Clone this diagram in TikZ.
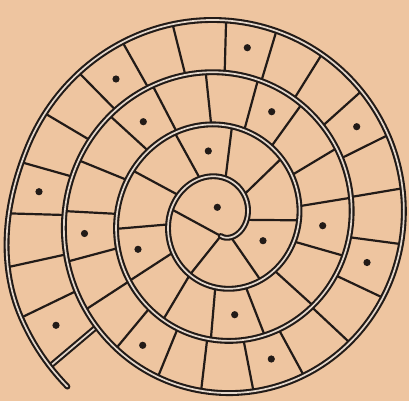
\documentclass[tikz,border=0pt]{standalone}
\usepackage{tikz}
\definecolor{paper}{RGB}{238,197,160}
\definecolor{ink}{RGB}{34,27,24}
\definecolor{gapc}{RGB}{228,216,204}
\begin{document}
\begin{tikzpicture}[x=1pt,y=-1pt,
  declare function={
    sps(\t)=min(1,max(0,(\t-1330)/45));
    spe(\t)=9*sps(\t)*sps(\t)*(3-2*sps(\t));
    spx(\t)=220.8+(12.9+0.145278*\t+spe(\t))*cos(\t+270);
    spy(\t)=219.6-(16.4+0.145278*\t+spe(\t))*sin(\t+270);
  },
  trackline/.style={draw=ink, line width=2.1pt, double=gapc, double distance=1.7pt, line cap=round, line join=round},
  divider/.style={draw=ink, line width=2.2pt},
  pip/.style={fill=ink}
]
\fill[paper] (0,0) rectangle (409,401);
\useasboundingbox (0,0) rectangle (409,401);
% chords inside the first loop
\draw[divider] ({spx(0)},{spy(0)}) -- ({spx(258.8)},{spy(258.8)});
\draw[divider] ({spx(0)},{spy(0)}) -- ({spx(329.3)},{spy(329.3)});
% radial dividers of the track
\foreach \t in {34.6,89.5,134.1,172.9,208.8,241.7,274.9,303,329.3,355.1,
  381.3,407.8,434,459.3,481,504.3,524.75,546,567.5,587.55,607.8,626.95,645,663.1,680.3,697.8,713.3,
  731,748.5,766.9,784.7,802.4,819.6,836.4,851.9,868.1,883.3,898.45,914.1,929.4,944.5,959.3,974.2,988.35,1002.4,1015.8}
  \draw[divider] ({spx(\t)},{spy(\t)}) -- ({spx(\t+360)},{spy(\t+360)});
% last (double) divider
\draw[trackline, line cap=butt] ({spx(1030.2)},{spy(1030.2)}) -- ({spx(1390.2)},{spy(1390.2)});
% the spiral
\draw[trackline] plot[domain=0:1397, samples=800, variable=\t] ({spx(\t)},{spy(\t)});
% dots
\foreach \p in {(247.3,47.7),(116,79),(143.3,121.7),(271.7,111.7),(356.7,126.7),(208.3,151),
  (39,191.7),(217.3,207.3),(322.7,225.7),(84.5,233.5),(263,240.7),(138,249.3),(367,262.5),
  (56,325.3),(234.7,314.7),(142.7,345.3),(271.3,359)}
  \fill[pip] \p circle (3.6pt);
\end{tikzpicture}
\end{document}
